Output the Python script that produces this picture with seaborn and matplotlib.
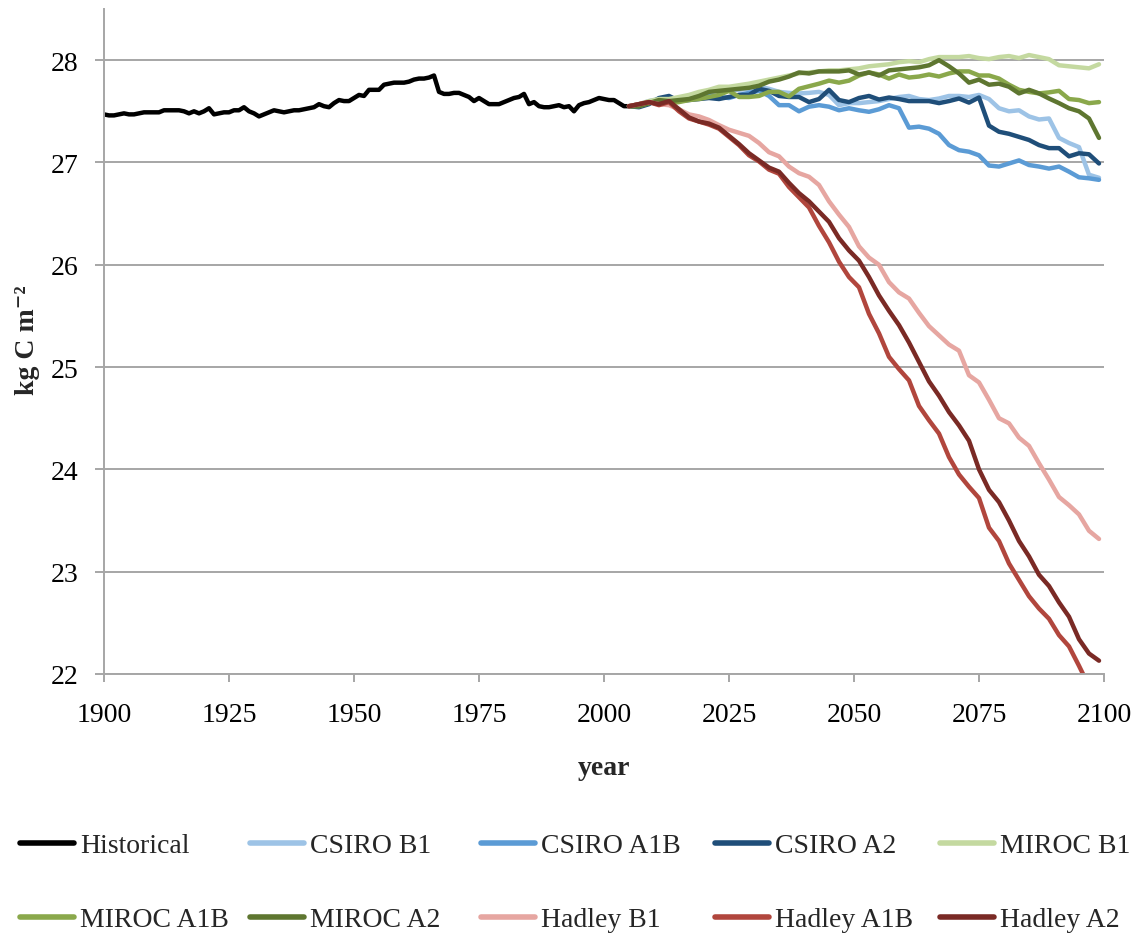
import matplotlib
matplotlib.use("Agg")
import matplotlib.pyplot as plt
from matplotlib.lines import Line2D
import pandas as pd
import seaborn as sns

# ---- data: soil carbon, kg C per m^2 ----
hist_years = list(range(1900, 2006))
hist_values = [
    27.47, 27.46, 27.46, 27.47, 27.48, 27.47, 27.47, 27.48, 27.49, 27.49,
    27.49, 27.49, 27.51, 27.51, 27.51, 27.51, 27.50, 27.48, 27.50, 27.48,
    27.50, 27.53, 27.47, 27.48, 27.49, 27.49, 27.51, 27.51, 27.54, 27.50,
    27.48, 27.45, 27.47, 27.49, 27.51, 27.50, 27.49, 27.50, 27.51, 27.51,
    27.52, 27.53, 27.54, 27.57, 27.55, 27.54, 27.58, 27.61, 27.60, 27.60,
    27.63, 27.66, 27.65, 27.71, 27.71, 27.71, 27.76, 27.77, 27.78, 27.78,
    27.78, 27.79, 27.81, 27.82, 27.82, 27.83, 27.85, 27.69, 27.67, 27.67,
    27.68, 27.68, 27.66, 27.64, 27.60, 27.63, 27.60, 27.57, 27.57, 27.57,
    27.59, 27.61, 27.63, 27.64, 27.67, 27.57, 27.59, 27.55, 27.54, 27.54,
    27.55, 27.56, 27.54, 27.55, 27.50, 27.56, 27.58, 27.59, 27.61, 27.63,
    27.62, 27.61, 27.61, 27.58, 27.55, 27.55,
]

proj_years = list(range(2005, 2100, 2))

csiro_b1 = [
    27.55, 27.57, 27.60, 27.62, 27.63, 27.62, 27.64, 27.67, 27.68, 27.71,
    27.70, 27.71, 27.72, 27.74, 27.72, 27.69, 27.68, 27.675, 27.68, 27.69,
    27.66, 27.56, 27.58, 27.58, 27.59, 27.60, 27.62, 27.64, 27.65, 27.62,
    27.61, 27.625, 27.65, 27.65, 27.64, 27.66, 27.62, 27.53, 27.50, 27.51,
    27.45, 27.42, 27.43, 27.24, 27.19, 27.15, 26.88, 26.85,
]
csiro_a1b = [
    27.55, 27.56, 27.59, 27.61, 27.60, 27.62, 27.64, 27.625, 27.65, 27.64,
    27.63, 27.66, 27.68, 27.70, 27.65, 27.56, 27.56, 27.50, 27.545, 27.56,
    27.545, 27.51, 27.53, 27.51, 27.495, 27.52, 27.56, 27.53, 27.34, 27.35,
    27.33, 27.28, 27.17, 27.12, 27.105, 27.07, 26.97, 26.96, 26.99, 27.02,
    26.975, 26.96, 26.94, 26.96, 26.91, 26.855, 26.845, 26.83,
]
csiro_a2 = [
    27.55, 27.54, 27.57, 27.63, 27.65, 27.60, 27.61, 27.62, 27.63, 27.62,
    27.64, 27.66, 27.66, 27.72, 27.70, 27.65, 27.64, 27.64, 27.59, 27.62,
    27.71, 27.61, 27.59, 27.63, 27.65, 27.615, 27.635, 27.62, 27.60, 27.60,
    27.60, 27.58, 27.60, 27.625, 27.585, 27.635, 27.36, 27.30, 27.28, 27.25,
    27.22, 27.17, 27.14, 27.14, 27.06, 27.09, 27.08, 26.99,
]
miroc_b1 = [
    27.55, 27.57, 27.60, 27.62, 27.62, 27.64, 27.66, 27.69, 27.71, 27.74,
    27.74, 27.755, 27.77, 27.79, 27.81, 27.83, 27.85, 27.87, 27.88, 27.89,
    27.90, 27.90, 27.91, 27.92, 27.94, 27.95, 27.96, 27.98, 27.99, 27.98,
    28.01, 28.03, 28.03, 28.03, 28.04, 28.02, 28.01, 28.03, 28.04, 28.02,
    28.05, 28.03, 28.01, 27.95, 27.94, 27.93, 27.92, 27.96,
]
miroc_a1b = [
    27.55, 27.55, 27.58, 27.60, 27.58, 27.59, 27.61, 27.62, 27.64, 27.66,
    27.70, 27.64, 27.64, 27.65, 27.69, 27.69, 27.645, 27.72, 27.745, 27.77,
    27.80, 27.78, 27.80, 27.85, 27.88, 27.86, 27.82, 27.86, 27.83, 27.84,
    27.86, 27.84, 27.87, 27.89, 27.89, 27.85, 27.85, 27.82, 27.76, 27.71,
    27.69, 27.675, 27.685, 27.70, 27.62, 27.61, 27.58, 27.59,
]
miroc_a2 = [
    27.55, 27.55, 27.58, 27.61, 27.60, 27.61, 27.62, 27.65, 27.69, 27.70,
    27.71, 27.72, 27.73, 27.75, 27.79, 27.81, 27.84, 27.88, 27.87, 27.89,
    27.89, 27.89, 27.90, 27.86, 27.88, 27.85, 27.90, 27.91, 27.92, 27.93,
    27.95, 28.00, 27.94, 27.87, 27.78, 27.81, 27.76, 27.77, 27.74, 27.675,
    27.71, 27.675, 27.625, 27.58, 27.53, 27.50, 27.43, 27.24,
]
hadley_b1 = [
    27.55, 27.57, 27.59, 27.57, 27.56, 27.52, 27.47, 27.45, 27.415, 27.365,
    27.32, 27.29, 27.26, 27.19, 27.10, 27.06, 26.96, 26.895, 26.86, 26.78,
    26.62, 26.49, 26.37, 26.18, 26.07, 26.00, 25.83, 25.73, 25.67, 25.53,
    25.40, 25.31, 25.22, 25.16, 24.92, 24.85, 24.68, 24.50, 24.45, 24.31,
    24.23, 24.06, 23.90, 23.73, 23.65, 23.56, 23.40, 23.32,
]
hadley_a1b = [
    27.55, 27.57, 27.59, 27.56, 27.59, 27.50, 27.43, 27.40, 27.37, 27.33,
    27.25, 27.17, 27.07, 27.01, 26.93, 26.89, 26.76, 26.66, 26.56, 26.38,
    26.22, 26.03, 25.88, 25.78, 25.52, 25.33, 25.10, 24.98, 24.87, 24.62,
    24.48, 24.35, 24.12, 23.95, 23.83, 23.72, 23.43, 23.30, 23.08, 22.92,
    22.76, 22.64, 22.54, 22.38, 22.27, 22.08, 21.88, 21.72,
]
hadley_a2 = [
    27.55, 27.57, 27.59, 27.57, 27.60, 27.52, 27.44, 27.40, 27.38, 27.34,
    27.26, 27.18, 27.09, 27.02, 26.95, 26.91, 26.80, 26.70, 26.62, 26.52,
    26.42, 26.26, 26.14, 26.04, 25.88, 25.70, 25.55, 25.41, 25.24, 25.05,
    24.86, 24.72, 24.56, 24.43, 24.28, 24.00, 23.80, 23.68, 23.50, 23.30,
    23.15, 22.97, 22.86, 22.70, 22.56, 22.34, 22.20, 22.13,
]

series_names = [
    "Historical", "CSIRO B1", "CSIRO A1B", "CSIRO A2", "MIROC B1",
    "MIROC A1B", "MIROC A2", "Hadley B1", "Hadley A1B", "Hadley A2",
]
series_colors = [
    "#000000", "#9dc3e6", "#5b9bd5", "#1f4e79", "#c4d9a0",
    "#8aa84b", "#5e7630", "#e6a6a1", "#b1463d", "#7a2a25",
]
x_ticks = [1900, 1925, 1950, 1975, 2000, 2025, 2050, 2075, 2100]
y_ticks = [22, 23, 24, 25, 26, 27, 28]

# ---- long-form table ----
proj_series = [csiro_b1, csiro_a1b, csiro_a2, miroc_b1, miroc_a1b,
               miroc_a2, hadley_b1, hadley_a1b, hadley_a2]
frames = [pd.DataFrame({"year": hist_years, "value": hist_values,
                        "series": "Historical"})]
for name, vals in zip(series_names[1:], proj_series):
    frames.append(pd.DataFrame({"year": proj_years, "value": vals,
                                "series": name}))
df = pd.concat(frames, ignore_index=True)

# ---- style ----
sns.set_style("white")
plt.rcParams["font.family"] = ["Liberation Serif", "DejaVu Serif"]

W, H = 1145, 937
grid_color = "#a6a6a6"
fig = plt.figure(figsize=(W / 100, H / 100), dpi=100)
ax = fig.add_axes([104 / W, 1 - 675 / H, 1000 / W, 665 / H])

palette = dict(zip(series_names, series_colors))
sns.lineplot(data=df, x="year", y="value", hue="series",
             hue_order=series_names, palette=palette, linewidth=3.2,
             legend=False, ax=ax, sort=False)
for ln in ax.get_lines():
    ln.set_solid_joinstyle("round")
    ln.set_solid_capstyle("round")

ax.set_xlim(1900, 2100)
ax.set_ylim(22, 28.5)
ax.set_xticks(x_ticks)
ax.set_yticks(y_ticks)
ax.grid(axis="y", color=grid_color, linewidth=1.4)
ax.grid(axis="x", visible=False)
ax.set_axisbelow(True)
for side in ("top", "right"):
    ax.spines[side].set_visible(False)
for side in ("left", "bottom"):
    ax.spines[side].set_color(grid_color)
    ax.spines[side].set_linewidth(1.4)

ax.tick_params(axis="x", bottom=True, direction="out", length=6,
               width=1.4, color=grid_color, pad=14, labelsize=20,
               labelcolor="black")
ax.tick_params(axis="y", left=True, direction="out", length=6.5,
               width=1.4, color=grid_color, pad=12, labelsize=20,
               labelcolor="black")

ax.set_xlabel("year", fontsize=20, fontweight="bold")
ax.xaxis.label.set_va("baseline")
ax.xaxis.set_label_coords(0.5, (675 - 775) / 665)
ax.set_ylabel("kg C m\u207b\u00b2", fontsize=20, fontweight="bold")
ax.yaxis.label.set_va("bottom")
ax.yaxis.set_label_coords((40 - 104) / 1000, (675 - 340) / 665)

# ---- legend: two rows of five entries ----
handles = [Line2D([0], [0], color=c, lw=4.0, solid_capstyle="round")
           for c in series_colors]
col_x = [20, 250, 481, 715, 940]
for k, x0 in enumerate(col_x):
    idx = [k, k + 5]
    fig.legend([handles[i] for i in idx], [series_names[i] for i in idx],
               loc="upper left", bbox_to_anchor=(x0 / W, 1 - 834 / H),
               frameon=False, fontsize=20, handlelength=1.95,
               handletextpad=0.2, labelspacing=1.75, borderpad=0,
               borderaxespad=0)

fig.savefig("out.png", dpi=100)
